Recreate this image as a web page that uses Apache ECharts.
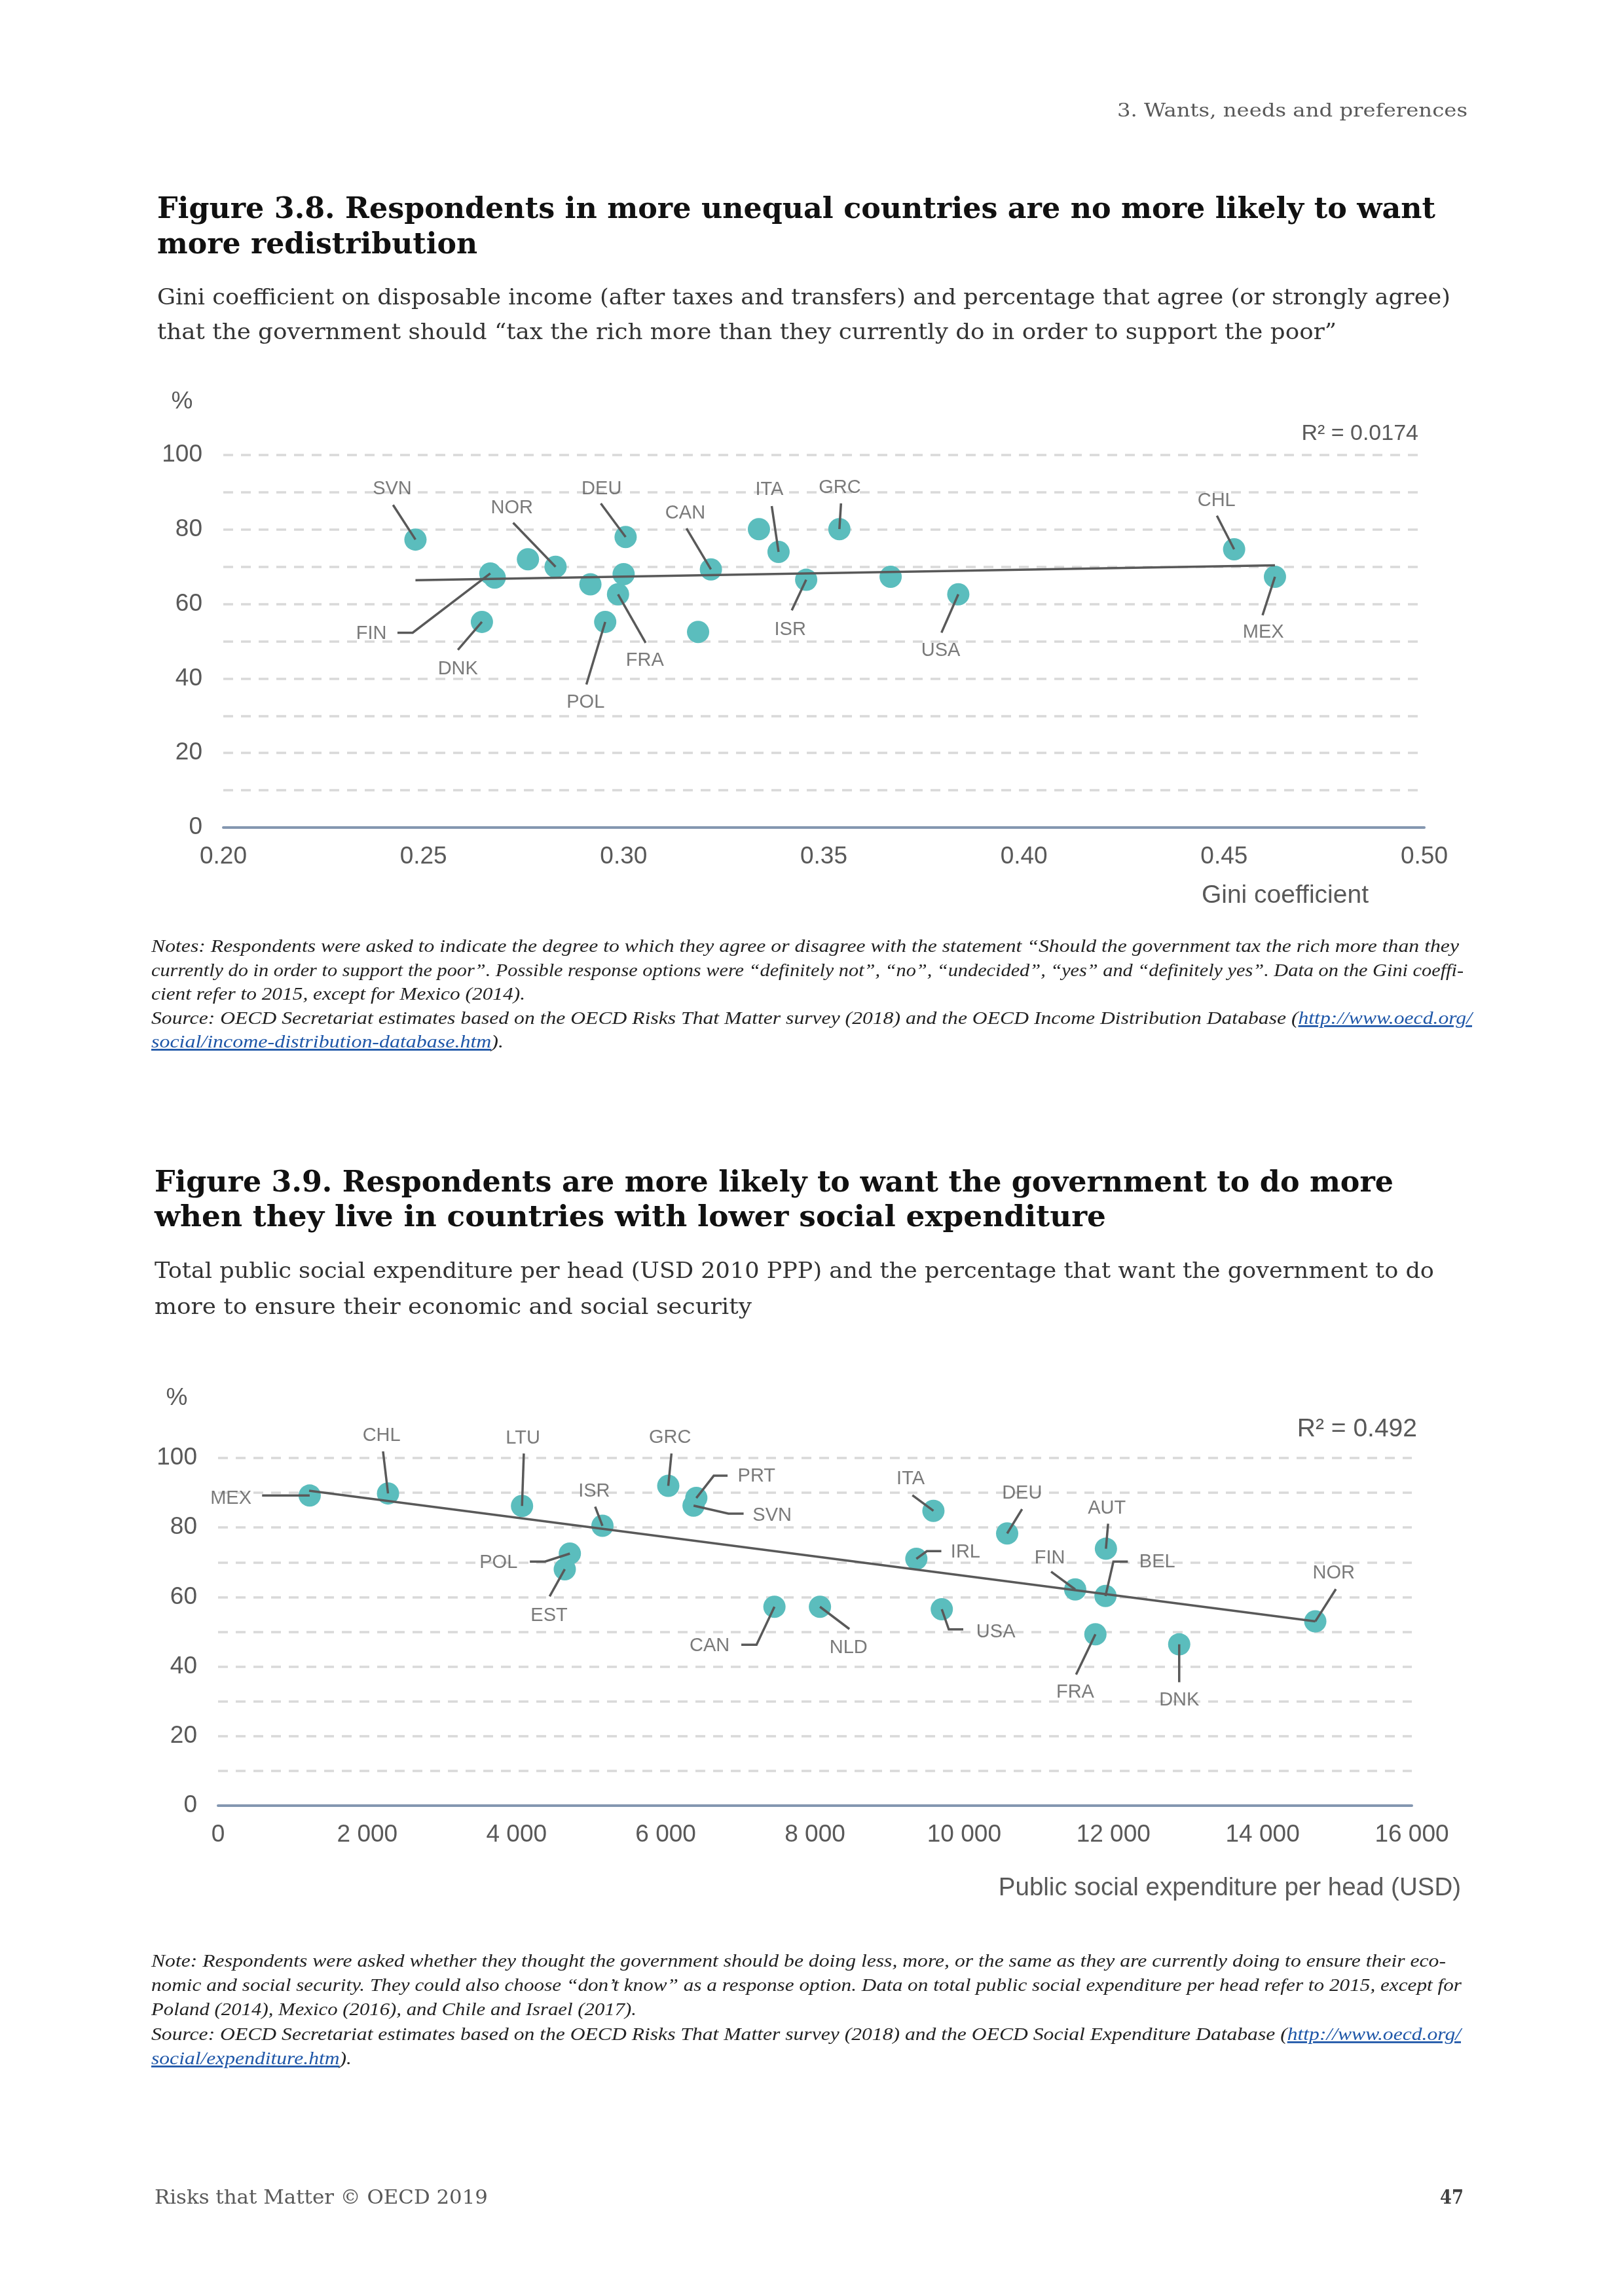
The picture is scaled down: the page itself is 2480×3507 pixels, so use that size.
<!DOCTYPE html>
<html><head><meta charset="utf-8">
<script src="https://cdn.jsdelivr.net/npm/echarts@6/dist/echarts.min.js"></script>
<style>
html,body{margin:0;padding:0;background:#fff;}
#page{position:relative;width:2480px;height:3507px;overflow:hidden;background:#fff;}
#chart{position:absolute;left:0;top:0;width:2480px;height:3507px;}
#txt{position:absolute;left:0;top:0;pointer-events:none;}
#txt text{white-space:pre;}
</style></head><body>
<div id="page"><div id="chart"></div><svg id="txt" width="2480" height="3507" xmlns="http://www.w3.org/2000/svg"></svg></div>
<script>
// ---------------- DATA ----------------
// Figure 3.8
const fig1Names = ['SVN','FIN','','DNK','','NOR','','POL','FRA','','DEU','','CAN','','ITA','ISR','GRC','','USA','CHL','MEX'];
const fig1Gini  = [0.248,0.2667,0.2678,0.2646,0.2761,0.2830,0.2917,0.2954,0.2986,0.3000,0.3005,0.3186,0.3218,0.3338,0.3387,0.3456,0.3539,0.3667,0.3836,0.4525,0.4627];
const fig1Agree = [77.3,68.2,67.1,55.2,72.0,70.0,65.3,55.2,62.6,68.0,78.0,52.5,69.3,80.1,74.0,66.5,80.1,67.3,62.6,74.7,67.3];
const fig1TrendX = [0.248, 0.4627];
const fig1TrendY = [66.4, 70.4];
const fig1XTicks = [0.20,0.25,0.30,0.35,0.40,0.45,0.50];
const fig1YTicks = [0,20,40,60,80,100];
const fig1R2 = 'R² = 0.0174';
const fig1XTitle = 'Gini coefficient';

// Figure 3.9
const fig2Names = ['MEX','CHL','LTU','ISR','POL','EST','GRC','PRT','SVN','CAN','NLD','ITA','DEU','IRL','USA','FIN','AUT','BEL','FRA','DNK','NOR'];
const fig2Spend = [1228,2278,4074,5152,4715,4647,6034,6410,6373,7457,8067,9588,10576,9359,9700,11488,11900,11894,11759,12882,14706];
const fig2Want  = [89.2,89.8,86.2,80.5,72.5,68.0,92.0,88.5,86.3,57.2,57.2,84.8,78.3,71.0,56.5,62.2,73.9,60.3,49.3,46.4,53.0];
const fig2TrendX = [1220, 14706];
const fig2TrendY = [90.6, 53.0];
const fig2XTicks = [0,2000,4000,6000,8000,10000,12000,14000,16000];
const fig2YTicks = [0,20,40,60,80,100];
const fig2R2 = 'R² = 0.492';
const fig2XTitle = 'Public social expenditure per head (USD)';

const yUnit = '%';

// ---------------- LABEL PLACEMENT (positions, in data units) ----------------
const fig1LabelPos = {
  SVN:{at:[0.2422,90.8],via:[[0.2424,86.6]]},
  NOR:{at:[0.2721,85.8],via:[[0.2724,81.8]]},
  DEU:{at:[0.2945,90.9],via:[[0.2943,87.0]]},
  CAN:{at:[0.3154,84.3],via:[[0.3157,80.3]]},
  ITA:{at:[0.3364,90.6],via:[[0.3370,86.3]]},
  GRC:{at:[0.3540,91.3],via:[[0.3543,87.0]]},
  FIN:{at:[0.2370,52.1],via:[[0.2435,52.3],[0.2473,52.3]]},
  DNK:{at:[0.2586,42.6],via:[[0.2586,47.7]]},
  POL:{at:[0.2905,33.5],via:[[0.2907,38.4]]},
  FRA:{at:[0.3053,44.8],via:[[0.3055,49.6]]},
  ISR:{at:[0.3416,53.1],via:[[0.3420,58.3]]},
  USA:{at:[0.3792,47.5],via:[[0.3794,52.3]]},
  CHL:{at:[0.4481,87.7],via:[[0.4482,83.7]]},
  MEX:{at:[0.4598,52.3],via:[[0.4596,57.0]]}
};
const fig2LabelPos = {
  MEX:{at:[172,88.3],via:[[590,89.2]]},
  CHL:{at:[2191,106.4],via:[[2211,101.9]]},
  LTU:{at:[4086,105.7],via:[[4098,101.3]]},
  ISR:{at:[5041,90.4],via:[[5054,86.0]]},
  GRC:{at:[6058,105.9],via:[[6077,101.3]]},
  PRT:{at:[7217,94.7],via:[[6829,94.9],[6644,94.9]]},
  SVN:{at:[7426,83.5],via:[[7044,84.0],[6841,84.0]]},
  POL:{at:[3759,69.9],via:[[4179,70.2],[4382,70.2]]},
  EST:{at:[4437,54.6],via:[[4444,60.2]]},
  CAN:{at:[6588,45.9],via:[[7013,46.3],[7217,46.3]]},
  NLD:{at:[8450,45.4],via:[[8462,50.8]]},
  ITA:{at:[9282,93.9],via:[[9306,89.3]]},
  DEU:{at:[10776,89.9],via:[[10776,85.3]]},
  IRL:{at:[10018,72.9],via:[[9694,73.2],[9500,73.2]]},
  USA:{at:[10424,50.0],via:[[9988,50.7],[9794,50.7]]},
  FIN:{at:[11147,71.2],via:[[11165,67.3]]},
  AUT:{at:[11912,85.5],via:[[11929,81.1]]},
  BEL:{at:[12588,70.0],via:[[12194,70.2],[12000,70.2]]},
  FRA:{at:[11488,32.5],via:[[11500,37.7]]},
  DNK:{at:[12882,30.3],via:[[12882,35.5]]},
  NOR:{at:[14953,66.8],via:[[14982,62.3]]}
};

// ---------------- CHART ----------------
const FONT = '"Liberation Sans", Arial, Helvetica, sans-serif';
const GREY = '#595959';
const TEAL = '#5BBDBD';
const AXISBLUE = '#8497B0';

function thousands(v){ return String(v).replace(/\B(?=(\d{3})+(?!\d))/g,' '); }

function buildSeries(idx, names, xs, ys, tx, ty, labelPos){
  const pts = xs.map((x,i)=>[x, ys[i]]);
  const leaders = [], labels = [];
  names.forEach((n,i)=>{
    if(!n || !labelPos[n]) return;
    const lp = labelPos[n];
    leaders.push({coords: lp.via.concat([pts[i]])});
    labels.push({name:n, value:lp.at});
  });
  return [
    {type:'scatter', xAxisIndex:idx, yAxisIndex:idx, data:pts, symbolSize:34, silent:true,
     itemStyle:{color:TEAL, opacity:1}, z:2},
    {type:'line', xAxisIndex:idx, yAxisIndex:idx, data:[[tx[0],ty[0]],[tx[1],ty[1]]], symbol:'none', silent:true,
     lineStyle:{color:GREY, width:3.5}, z:3},
    {type:'lines', coordinateSystem:'cartesian2d', xAxisIndex:idx, yAxisIndex:idx, polyline:true, silent:true, clip:false,
     data:leaders, lineStyle:{color:GREY, width:3.5, opacity:1}, z:4},
    {type:'scatter', xAxisIndex:idx, yAxisIndex:idx, data:labels, symbolSize:1, silent:true, clip:false,
     itemStyle:{color:'rgba(0,0,0,0)'}, z:5,
     label:{show:true, position:'inside', formatter:'{b}', fontFamily:FONT, fontSize:29, color:GREY}}
  ];
}

function xAxisCfg(idx, ticks, fmt){
  return {gridIndex:idx, type:'value', min:ticks[0], max:ticks[ticks.length-1], interval:ticks[1]-ticks[0], z:3,
    axisLine:{show:true, lineStyle:{color:AXISBLUE, width:4}}, axisTick:{show:false}, splitLine:{show:false},
    axisLabel:{fontFamily:FONT, fontSize:37, color:GREY, margin:26, formatter:fmt}};
}
function yAxisCfg(idx, ticks){
  return {gridIndex:idx, type:'value', min:ticks[0], max:ticks[ticks.length-1], interval:(ticks[1]-ticks[0])/2,
    axisLine:{show:false}, axisTick:{show:false},
    splitLine:{show:true, showMinLine:false, lineStyle:{color:'#D9D9D9', width:3.5, type:[15,12]}},
    axisLabel:{fontFamily:FONT, fontSize:37, color:GREY, margin:32,
      formatter:v=> ticks.indexOf(v)>=0 ? String(v) : ''}};
}

const option = {
  animation:false,
  backgroundColor:'transparent',
  grid:[{left:341, top:695, width:1834, height:569},{left:333, top:2227, width:1823, height:531}],
  xAxis:[xAxisCfg(0, fig1XTicks, v=>v.toFixed(2)), xAxisCfg(1, fig2XTicks, v=>thousands(Math.round(v)))],
  yAxis:[yAxisCfg(0, fig1YTicks), yAxisCfg(1, fig2YTicks)],
  series:[].concat(
    buildSeries(0, fig1Names, fig1Gini, fig1Agree, fig1TrendX, fig1TrendY, fig1LabelPos),
    buildSeries(1, fig2Names, fig2Spend, fig2Want, fig2TrendX, fig2TrendY, fig2LabelPos)
  ),
  graphic:[
    {type:'text', x:278, y:614, silent:true, style:{text:yUnit, fontFamily:FONT, fontSize:37, fill:GREY, align:'center', verticalAlign:'middle'}},
    {type:'text', x:270, y:2136, silent:true, style:{text:yUnit, fontFamily:FONT, fontSize:37, fill:GREY, align:'center', verticalAlign:'middle'}},
    {type:'text', x:2166, y:663, silent:true, style:{text:fig1R2, fontFamily:FONT, fontSize:34, fill:GREY, align:'right', verticalAlign:'middle'}},
    {type:'text', x:2164, y:2183, silent:true, style:{text:fig2R2, fontFamily:FONT, fontSize:39, fill:GREY, align:'right', verticalAlign:'middle'}},
    {type:'text', x:2090, y:1368, silent:true, style:{text:fig1XTitle, fontFamily:FONT, fontSize:39, fill:GREY, align:'right', verticalAlign:'middle'}},
    {type:'text', x:2231, y:2884, silent:true, style:{text:fig2XTitle, fontFamily:FONT, fontSize:38.5, fill:GREY, align:'right', verticalAlign:'middle'}}
  ]
};
const chart = echarts.init(document.getElementById('chart'), null, {renderer:'canvas', width:2480, height:3507});
chart.setOption(option);

// ---------------- PAGE TEXT ----------------
const headerText = ['3. Wants, needs and preferences'];
const title1Lines = ['Figure 3.8. Respondents in more unequal countries are no more likely to want','more redistribution'];
const sub1Lines = ['Gini coefficient on disposable income (after taxes and transfers) and percentage that agree (or strongly agree)',
  'that the government should “tax the rich more than they currently do in order to support the poor”'];
const notes1Lines = [
  'Notes: Respondents were asked to indicate the degree to which they agree or disagree with the statement “Should the government tax the rich more than they',
  'currently do in order to support the poor”. Possible response options were “definitely not”, “no”, “undecided”, “yes” and “definitely yes”. Data on the Gini coeffi-',
  'cient refer to 2015, except for Mexico (2014).',
  [['Source: OECD Secretariat estimates based on the OECD Risks That Matter survey (2018) and the OECD Income Distribution Database (',0],['http://www.oecd.org/',1]],
  [['social/income-distribution-database.htm',1],[').',0]]
];
const title2Lines = ['Figure 3.9. Respondents are more likely to want the government to do more','when they live in countries with lower social expenditure'];
const sub2Lines = ['Total public social expenditure per head (USD 2010 PPP) and the percentage that want the government to do',
  'more to ensure their economic and social security'];
const notes2Lines = [
  'Note: Respondents were asked whether they thought the government should be doing less, more, or the same as they are currently doing to ensure their eco-',
  'nomic and social security. They could also choose “don’t know” as a response option. Data on total public social expenditure per head refer to 2015, except for',
  'Poland (2014), Mexico (2016), and Chile and Israel (2017).',
  [['Source: OECD Secretariat estimates based on the OECD Risks That Matter survey (2018) and the OECD Social Expenditure Database (',0],['http://www.oecd.org/',1]],
  [['social/expenditure.htm',1],[').',0]]
];
const footerLeft = ['Risks that Matter © OECD 2019'];
const footerRight = ['47'];

const SERIF = '"DejaVu Serif", "Liberation Serif", serif';
const ITALIC = '"Liberation Serif", "DejaVu Serif", serif';
const blocks = [
  {lines:headerText, x:1706, y:[178], w:[535], size:28, family:SERIF, fill:'#595959'},
  {lines:title1Lines, x:240, y:[333,387], w:[1952,489], size:44, weight:'bold', family:SERIF, fill:'#111111'},
  {lines:sub1Lines, x:240, y:[465,518], w:[1975,1801], size:34, family:SERIF, fill:'#333333'},
  {lines:notes1Lines, x:231, y:[1454,1491,1527,1564,1600], w:[1997,2004,571,2017,538], size:28, style:'italic', family:ITALIC, fill:'#222222'},
  {lines:title2Lines, x:236, y:[1820,1873], w:[1892,1453], size:44, weight:'bold', family:SERIF, fill:'#111111'},
  {lines:sub2Lines, x:236, y:[1952,2007], w:[1954,912], size:34, family:SERIF, fill:'#333333'},
  {lines:notes2Lines, x:231, y:[3004,3041,3078,3116,3153], w:[1977,2001,741,2000,306], size:28, style:'italic', family:ITALIC, fill:'#222222'},
  {lines:footerLeft, x:236, y:[3366], w:[509], size:30, family:SERIF, fill:'#595959'},
  {lines:footerRight, x:2199, y:[3366], w:[36], size:30, weight:'bold', family:SERIF, fill:'#404040'}
];
const NS = 'http://www.w3.org/2000/svg';
const svg = document.getElementById('txt');
blocks.forEach(b=>{
  b.lines.forEach((ln,i)=>{
    const t = document.createElementNS(NS,'text');
    t.setAttribute('x', b.x); t.setAttribute('y', b.y[i]);
    t.setAttribute('font-family', b.family); t.setAttribute('font-size', b.size);
    if(b.weight) t.setAttribute('font-weight', b.weight);
    if(b.style) t.setAttribute('font-style', b.style);
    t.setAttribute('fill', b.fill);
    t.setAttribute('textLength', b.w[i]); t.setAttribute('lengthAdjust','spacingAndGlyphs');
    const segs = typeof ln === 'string' ? [[ln,0]] : ln;
    segs.forEach(s=>{
      const sp = document.createElementNS(NS,'tspan');
      sp.textContent = s[0];
      if(s[1]){ sp.setAttribute('fill','#1F57A8'); sp.setAttribute('text-decoration','underline'); }
      t.appendChild(sp);
    });
    svg.appendChild(t);
  });
});
</script>
</body></html>
